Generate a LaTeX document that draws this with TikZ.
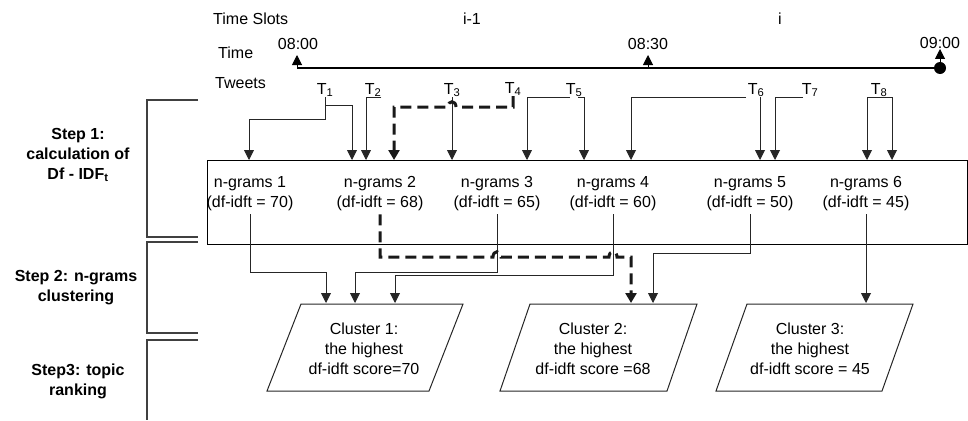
\documentclass[tikz,border=0pt]{standalone}
\usepackage{fontspec}
\setmainfont{Liberation Sans}
\usetikzlibrary{arrows.meta}

\begin{document}
\begin{tikzpicture}[x=1pt,y=-1pt,
  font=\fontsize{16}{20}\selectfont,
  conn/.style={line width=0.9pt, draw=black!85, -{Triangle[width=10pt,length=10pt]}},
  dconn/.style={line width=3pt, draw=black!90, dash pattern=on 11pt off 6pt,
                -{Triangle[width=11pt,length=10pt]}},
  brk/.style={line width=1.2pt, draw=black!75},
  lbl/.style={inner sep=0pt, align=center},
  steplbl/.style={inner sep=0pt, align=center, font=\fontsize{16}{20}\selectfont\bfseries},
  tw/.style={inner sep=0pt, anchor=south},
  ng/.style={inner xsep=0pt, inner ysep=3pt, align=center},
  clu/.style={line width=1pt, draw=black!85},
  ctext/.style={inner sep=0pt, align=center},
  tick/.style={line width=1pt, -{Triangle[width=10pt,length=10pt]}}]
\useasboundingbox (0,0) rectangle (968,420);

% ---- header: time slots and time axis
\node[lbl, anchor=west] (slots) at (213,19) {Time Slots};
\node[lbl] (slotA) at (472,19) {i-1};
\node[lbl] (slotB) at (780,19) {i};
\node[lbl, anchor=west] (timelbl) at (218,53) {Time};
\node[lbl] (h0800) at (298,44) {08:00};
\node[lbl] (h0830) at (648,44) {08:30};
\node[lbl] (h0900) at (940,43) {09:00};
\coordinate (m0) at (297,68);
\coordinate (m1) at (648,68);
\coordinate (m2) at (940,68);
\draw[line width=2.2pt] (m0) -- (m2);
\draw[tick] (m0) -- ++(0,-13);
\draw[tick] (m1) -- ++(0,-13);
\draw[tick] (m2) -- ++(0,-19);
\fill (m2) circle[radius=6pt];

% ---- tweets
\node[lbl, anchor=west] (tweets) at (215,83) {Tweets};
\node[tw] (t1) at (325,97) {T\textsubscript{1}};
\node[tw] (t2) at (373,97) {T\textsubscript{2}};
\node[tw] (t3) at (452,97) {T\textsubscript{3}};
\node[tw] (t4) at (513,96) {T\textsubscript{4}};
\node[tw] (t5) at (574,97) {T\textsubscript{5}};
\node[tw] (t6) at (756,97) {T\textsubscript{6}};
\node[tw] (t7) at (810,97) {T\textsubscript{7}};
\node[tw] (t8) at (879,97) {T\textsubscript{8}};

% ---- step brackets and labels
\draw[brk] (198,100) -| (147,237) -- (198,237);
\draw[brk] (198,242) -| (147,333) -- (198,333);
\draw[brk] (198,340) -| (147,420);
\node[steplbl] (s1) at (78,155) {Step 1:\\calculation of\\Df - IDF\textsubscript{t}};
\node[steplbl] (s2) at (76,288) {Step 2: n-grams\\clustering};
\node[steplbl] (s3) at (78,381) {Step3: topic\\ranking};

% ---- n-grams box
\node[draw, line width=1pt, anchor=north west, minimum width=760pt,
      minimum height=84pt, inner sep=0pt] (box) at (207,160) {};
\node[ng] (ng1) at (250,194) {n-grams 1\\(df-idft = 70)};
\node[ng] (ng2) at (380,194) {n-grams 2\\(df-idft = 68)};
\node[ng] (ng3) at (497,194) {n-grams 3\\(df-idft = 65)};
\node[ng] (ng4) at (613,194) {n-grams 4\\(df-idft = 60)};
\node[ng] (ng5) at (750,194) {n-grams 5\\(df-idft = 50)};
\node[ng] (ng6) at (866,194) {n-grams 6\\(df-idft = 45)};

% entry points on the top of the box
\coordinate (a1) at (249,160);
\coordinate (a2) at (352,160);
\coordinate (a3) at (366,160);
\coordinate (a4) at (394,160);
\coordinate (a5) at (452,160);
\coordinate (a6) at (527,160);
\coordinate (a7) at (584,160);
\coordinate (a8) at (631,160);
\coordinate (a9) at (760,160);
\coordinate (a10) at (775,160);
\coordinate (a11) at (867,160);
\coordinate (a12) at (892,160);

% tweets -> n-grams
\draw[conn] (t1.south) -- ++(0,22) -| (a1);
\draw[conn] (t1.south) ++(0,8) -| (a2);
\draw[conn] (t2.south east) -| (a3);
\draw[conn] (t3.south) -- (a5);
\draw[dconn] (t4.south) |- (456,107) .. controls (456,100) and (448,100) .. (448,107)
  -- (394,107) -- (a4);
\draw[conn] ([xshift=-4pt]t5.south) -| (a6);
\draw[conn] ([xshift=4pt]t5.south) -| (a7);
\draw[conn] ([xshift=-10pt]t6.south) -| (a8);
\draw[conn] (a9 |- t6.south) -- (a9);
\draw[conn] ([xshift=-7pt]t7.south) -| (a10);
\draw[conn] (t8.south) -| (a11);
\draw[conn] (t8.south) -| (a12);

% ---- clusters
\draw[clu] (301,304) -- (463,304) -- (429,391) -- (267,391) -- cycle;
\draw[clu] (530,304) -- (697,304) -- (667,391) -- (500,391) -- cycle;
\draw[clu] (747,304) -- (913,304) -- (882,391) -- (716,391) -- cycle;
\node[ctext] (c1) at (364,349) {Cluster 1:\\the highest\\df-idft score=70};
\node[ctext] (c2) at (593,349) {Cluster 2:\\the highest\\df-idft  score =68};
\node[ctext] (c3) at (810,349) {Cluster 3:\\the highest\\df-idft score = 45};

% entry points on the top of the clusters
\coordinate (e1) at (326,303);
\coordinate (e2) at (355,303);
\coordinate (e3) at (395,303);
\coordinate (e4) at (631,303);
\coordinate (e5) at (653,303);
\coordinate (e6) at (866,303);

% n-grams -> clusters
\draw[conn] (ng1.south) -- ++(0,58) -| (e1);
\draw[conn] (ng3.south) -- ++(0,58) -| (e2);
\draw[conn] (ng4.south) -- ++(0,61) -| (e3);
\draw[conn] (ng5.south) -- ++(0,39) -| (e5);
\draw[conn] (ng6.south) -- (e6);
\draw[dconn] (ng2.south) |- (493,257) .. controls (493,250) and (501,250) .. (501,257)
  -- (609,257) .. controls (609,250) and (617,250) .. (617,257) -| (e4);
\end{tikzpicture}
\end{document}
